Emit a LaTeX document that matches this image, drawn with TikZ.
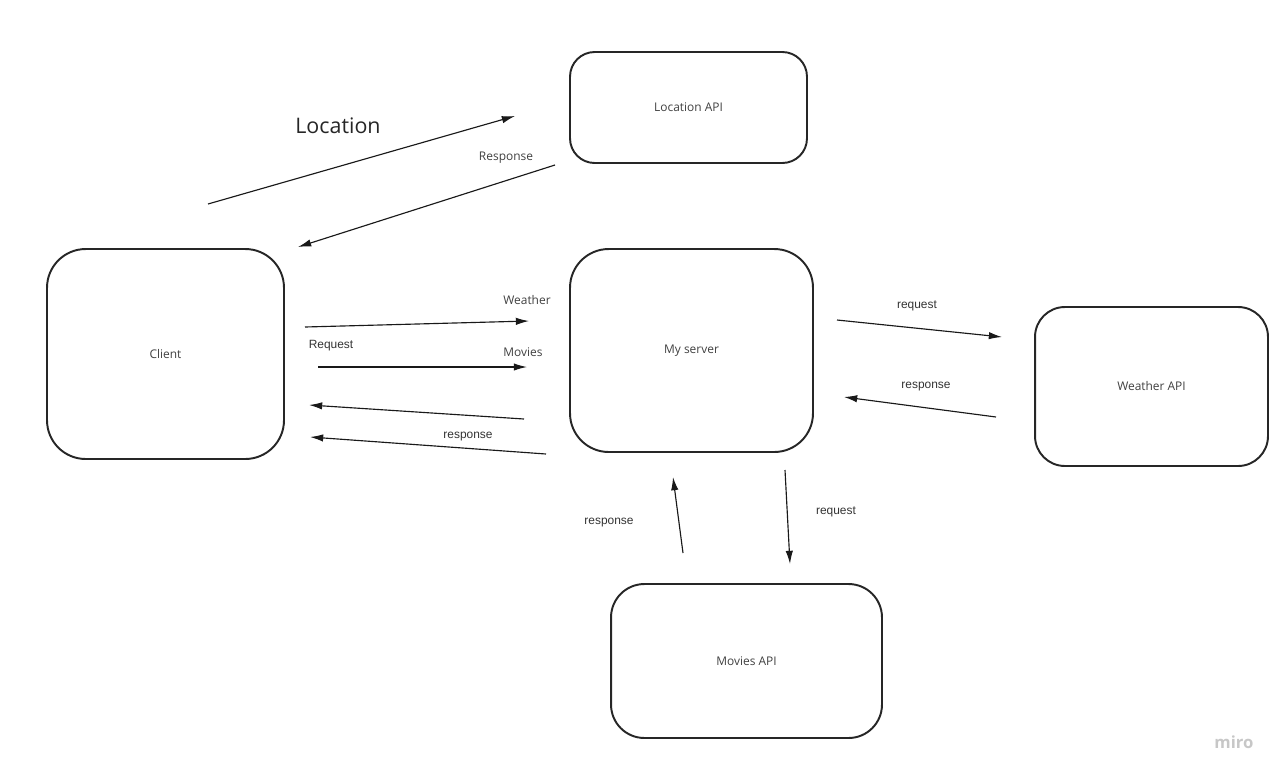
\documentclass[tikz,border=0pt]{standalone}
\usepackage{xcolor}
\usepackage{fontspec}
\setmainfont{Open Sans}
\newfontfamily\arialfont{Liberation Sans}
\usepackage{tikz}
\usetikzlibrary{shapes,arrows.meta,positioning,calc}

\begin{document}
\begin{tikzpicture}[x=0.02cm, y=-0.02cm,
  apibox/.style={rectangle, draw=black!85, line width=1.1pt, align=center, text=black!75, font=\fontsize{6.8}{8}\selectfont},
  flow/.style={-{Latex[length=7.5pt, width=4.2pt]}, line width=0.65pt, color=black!90},
  lbl/.style={font=\fontsize{6.8}{8}\selectfont, text=black!75},
  albl/.style={font=\arialfont\fontsize{6.8}{8}\selectfont, text=black!80}]
\useasboundingbox (0,0) rectangle (1284,778);
\node[apibox, minimum width=4.74cm, minimum height=2.22cm, rounded corners=14pt] (loc) at (688.5,107.5) {Location API};
\node[apibox, minimum width=4.74cm, minimum height=4.2cm, rounded corners=22pt] (client) at (165.5,354) {Client};
\node[apibox, minimum width=4.86cm, minimum height=4.06cm, rounded corners=22pt] (srv) at (691.5,350.5) {My server};
\node[apibox, minimum width=4.66cm, minimum height=3.18cm, rounded corners=17pt] (wapi) at (1151.5,386.5) {Weather API};
\node[apibox, minimum width=5.42cm, minimum height=3.08cm, rounded corners=19pt] (mapi) at (746.5,661) {Movies API};
% arrow ends
\coordinate (locA) at (208,204);
\coordinate (locB) at (515,116);
\coordinate (resA) at (555,165);
\coordinate (resB) at (298,247);
\coordinate (wA) at (305,327);
\coordinate (wB) at (529,321);
\coordinate (mA) at (318,367);
\coordinate (mB) at (527,367);
\coordinate (r1A) at (524,419);
\coordinate (r1B) at (309,405);
\coordinate (r2A) at (546,454);
\coordinate (r2B) at (310,437);
\coordinate (wqA) at (837,320);
\coordinate (wqB) at (1002,337);
\coordinate (wrA) at (996,417);
\coordinate (wrB) at (844,397);
\coordinate (mrA) at (683,553);
\coordinate (mrB) at (673,477);
\coordinate (mqA) at (785,470);
\coordinate (mqB) at (790,564);
\draw[flow] (locA) -- (locB);
\draw[flow] (resA) -- (resB);
\draw[flow] (wA) -- (wB);
\draw[flow] (mA) -- (mB);
\draw[flow] (r1A) -- (r1B);
\draw[flow] (r2A) -- (r2B);
\draw[flow] (wqA) -- (wqB);
\draw[flow] (wrA) -- (wrB);
\draw[flow] (mrA) -- (mrB);
\draw[flow] (mqA) -- (mqB);
% labels
\node[font=\fontsize{12.2}{14}\selectfont, text=black!85] (loclbl) at (338,126) {Location};
\node[lbl] (reslbl) at (506,158) {Response};
\node[lbl] (wlbl) at (527,300) {Weather};
\node[lbl] (mlbl) at (523,352) {Movies};
\node[albl] (reqlbl) at (331,346) {Request};
\node[albl] (r2lbl) at (468,437) {response};
\node[albl] (wqlbl) at (917,306) {request};
\node[albl] (wrlbl) at (926,387) {response};
\node[albl] (mrlbl) at (609,523) {response};
\node[albl] (mqlbl) at (836,512) {request};
\node[font=\bfseries\fontsize{9.5}{11}\selectfont, text=black!22] (miro) at (1234,742) {miro};
\end{tikzpicture}
\end{document}
